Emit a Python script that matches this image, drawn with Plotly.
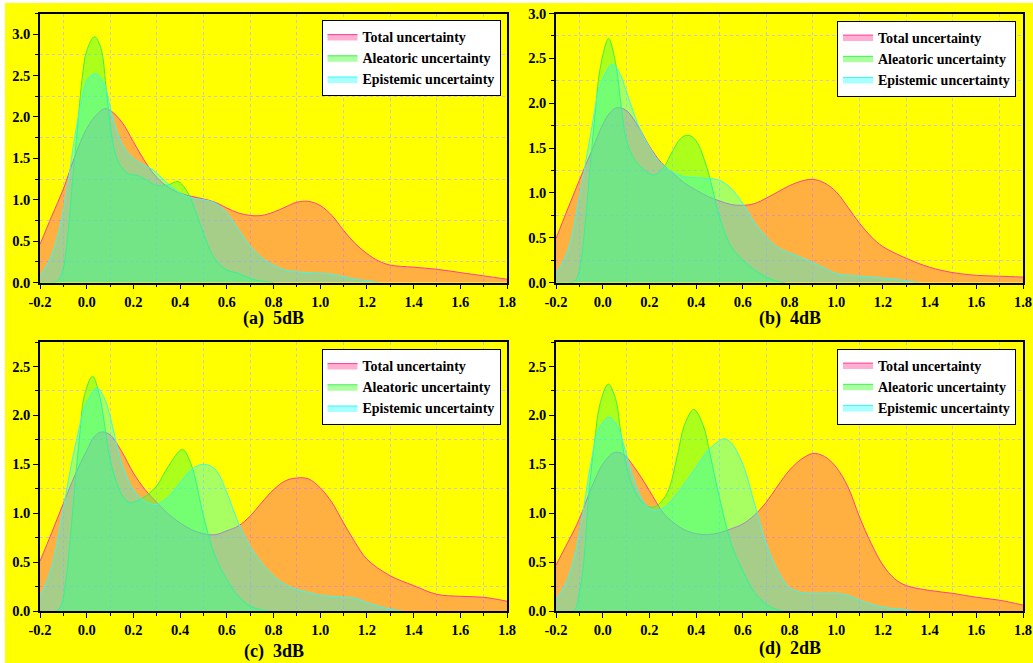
import plotly.graph_objects as go

# ---------------- data ----------------
SERIES_NAMES = ["Total uncertainty", "Aleatoric uncertainty", "Epistemic uncertainty"]
PANEL_TITLES = ["(a)  5dB", "(b)  4dB", "(c)  3dB", "(d)  2dB"]
X_TICK_VALS = [-0.2, 0.0, 0.2, 0.4, 0.6, 0.8, 1.0, 1.2, 1.4, 1.6, 1.8]
X_TICK_TEXT = ["-0.2", "0.0", "0.2", "0.4", "0.6", "0.8", "1.0", "1.2", "1.4", "1.6", "1.8"]

# (a) 5dB
A_TOTAL_X = [-0.2, -0.15, -0.1, -0.05, 0.0, 0.05, 0.077, 0.1, 0.15, 0.2, 0.25, 0.3, 0.35, 0.4, 0.45, 0.5, 0.55, 0.6, 0.65, 0.7, 0.75, 0.8, 0.85, 0.9, 0.95, 1.0, 1.05, 1.1, 1.15, 1.2, 1.25, 1.3, 1.4, 1.5, 1.6, 1.7, 1.8]
A_TOTAL_Y = [0.46, 0.8, 1.13, 1.53, 1.86, 2.05, 2.10, 2.08, 1.94, 1.70, 1.46, 1.27, 1.15, 1.08, 1.04, 1.01, 0.97, 0.90, 0.84, 0.81, 0.81, 0.85, 0.91, 0.97, 0.98, 0.93, 0.81, 0.63, 0.47, 0.35, 0.26, 0.21, 0.185, 0.16, 0.12, 0.08, 0.04]
A_ALEA_X = [-0.2, -0.14, -0.12, -0.1, -0.08, -0.06, -0.04, -0.02, 0.0, 0.033, 0.06, 0.085, 0.105, 0.125, 0.15, 0.18, 0.22, 0.26, 0.3, 0.35, 0.39, 0.43, 0.47, 0.5, 0.55, 0.6, 0.65, 0.7, 0.75, 0.8]
A_ALEA_Y = [0.0, 0.0, 0.03, 0.17, 0.6, 1.25, 1.85, 2.45, 2.8, 2.97, 2.84, 2.3, 1.82, 1.53, 1.39, 1.31, 1.29, 1.23, 1.17, 1.18, 1.22, 1.1, 0.83, 0.59, 0.28, 0.15, 0.11, 0.05, 0.015, 0.0]
A_EPI_X = [-0.2, -0.15, -0.11, -0.08, -0.05, -0.02, 0.005, 0.04, 0.077, 0.105, 0.135, 0.165, 0.2, 0.25, 0.28, 0.3, 0.35, 0.4, 0.45, 0.5, 0.55, 0.6, 0.65, 0.7, 0.75, 0.8, 0.85, 0.9, 1.0, 1.05, 1.1, 1.15, 1.2, 1.25]
A_EPI_Y = [0.07, 0.33, 0.73, 1.21, 1.78, 2.22, 2.46, 2.52, 2.38, 2.06, 1.78, 1.61, 1.5, 1.41, 1.37, 1.32, 1.19, 1.08, 1.02, 1.0, 0.96, 0.84, 0.64, 0.44, 0.3, 0.21, 0.15, 0.13, 0.11, 0.1, 0.07, 0.04, 0.02, 0.0]

# (b) 4dB
B_TOTAL_X = [-0.2, -0.15, -0.1, -0.05, 0.0, 0.03, 0.06, 0.1, 0.15, 0.2, 0.25, 0.3, 0.35, 0.4, 0.45, 0.5, 0.55, 0.6, 0.65, 0.7, 0.75, 0.8, 0.85, 0.9, 0.95, 1.0, 1.05, 1.1, 1.15, 1.2, 1.3, 1.4, 1.5, 1.6, 1.7, 1.8]
B_TOTAL_Y = [0.49, 0.82, 1.14, 1.45, 1.76, 1.89, 1.95, 1.92, 1.75, 1.52, 1.34, 1.22, 1.11, 1.03, 0.96, 0.91, 0.87, 0.86, 0.88, 0.94, 1.01, 1.08, 1.13, 1.15, 1.11, 1.01, 0.84, 0.66, 0.51, 0.4, 0.27, 0.17, 0.11, 0.08, 0.07, 0.06]
B_ALEA_X = [-0.2, -0.13, -0.11, -0.09, -0.07, -0.05, -0.03, -0.01, 0.025, 0.055, 0.08, 0.1, 0.13, 0.17, 0.22, 0.26, 0.3, 0.34, 0.37, 0.4, 0.45, 0.5, 0.55, 0.6, 0.65, 0.7, 0.75, 0.78]
B_ALEA_Y = [0.0, 0.0, 0.05, 0.3, 0.8, 1.4, 1.95, 2.4, 2.72, 2.45, 1.95, 1.6, 1.4, 1.27, 1.2, 1.28, 1.47, 1.62, 1.64, 1.58, 1.25, 0.73, 0.4, 0.25, 0.14, 0.06, 0.01, 0.0]
B_EPI_X = [-0.2, -0.15, -0.1, -0.05, -0.01, 0.04, 0.07, 0.1, 0.15, 0.2, 0.25, 0.3, 0.35, 0.4, 0.45, 0.5, 0.55, 0.6, 0.65, 0.7, 0.75, 0.8, 0.85, 0.9, 0.95, 1.0, 1.05, 1.1, 1.2, 1.3, 1.35]
B_EPI_Y = [0.1, 0.35, 0.95, 1.68, 2.2, 2.43, 2.35, 2.14, 1.77, 1.51, 1.33, 1.23, 1.18, 1.17, 1.16, 1.14, 1.05, 0.88, 0.67, 0.51, 0.39, 0.33, 0.28, 0.22, 0.16, 0.1, 0.08, 0.07, 0.05, 0.02, 0.0]

# (c) 3dB
C_TOTAL_X = [-0.2, -0.15, -0.1, -0.05, 0.0, 0.035, 0.065, 0.1, 0.15, 0.2, 0.25, 0.3, 0.35, 0.4, 0.45, 0.5, 0.55, 0.6, 0.65, 0.7, 0.75, 0.8, 0.85, 0.9, 0.95, 1.0, 1.05, 1.1, 1.15, 1.2, 1.3, 1.4, 1.5, 1.6, 1.7, 1.8]
C_TOTAL_Y = [0.51, 0.8, 1.1, 1.39, 1.64, 1.79, 1.83, 1.8, 1.63, 1.41, 1.24, 1.11, 0.99, 0.9, 0.83, 0.79, 0.78, 0.82, 0.87, 0.97, 1.11, 1.24, 1.33, 1.36, 1.35, 1.26, 1.11, 0.9, 0.7, 0.53, 0.36, 0.26, 0.17, 0.15, 0.14, 0.1]
C_ALEA_X = [-0.2, -0.13, -0.11, -0.09, -0.07, -0.05, -0.03, -0.01, 0.025, 0.055, 0.08, 0.1, 0.13, 0.15, 0.18, 0.21, 0.25, 0.3, 0.35, 0.41, 0.45, 0.5, 0.55, 0.6, 0.65, 0.7, 0.75, 0.78]
C_ALEA_Y = [0.0, 0.0, 0.05, 0.3, 0.75, 1.3, 1.8, 2.2, 2.4, 2.2, 1.85, 1.55, 1.3, 1.19, 1.11, 1.12, 1.17, 1.28, 1.48, 1.65, 1.48, 0.97, 0.56, 0.32, 0.15, 0.05, 0.01, 0.0]
C_EPI_X = [-0.2, -0.15, -0.1, -0.05, 0.0, 0.045, 0.075, 0.1, 0.15, 0.2, 0.25, 0.3, 0.35, 0.4, 0.45, 0.5, 0.55, 0.6, 0.65, 0.7, 0.75, 0.8, 0.85, 0.9, 0.95, 1.0, 1.05, 1.1, 1.15, 1.2, 1.25, 1.3, 1.35]
C_EPI_Y = [0.14, 0.45, 1.05, 1.68, 2.13, 2.28, 2.18, 1.99, 1.51, 1.24, 1.12, 1.09, 1.17, 1.31, 1.45, 1.5, 1.45, 1.21, 0.9, 0.66, 0.49, 0.36, 0.27, 0.22, 0.19, 0.16, 0.15, 0.14, 0.13, 0.085, 0.05, 0.02, 0.0]

# (d) 2dB
D_TOTAL_X = [-0.2, -0.15, -0.1, -0.05, 0.0, 0.05, 0.09, 0.135, 0.18, 0.22, 0.26, 0.3, 0.35, 0.4, 0.45, 0.5, 0.55, 0.6, 0.65, 0.7, 0.75, 0.8, 0.85, 0.9, 0.95, 1.0, 1.05, 1.1, 1.15, 1.2, 1.25, 1.3, 1.4, 1.5, 1.6, 1.7, 1.8]
D_TOTAL_Y = [0.47, 0.7, 0.94, 1.25, 1.5, 1.62, 1.6, 1.47, 1.31, 1.15, 1.0, 0.91, 0.83, 0.79, 0.78, 0.8, 0.84, 0.89, 0.98, 1.11, 1.28, 1.44, 1.55, 1.61, 1.58, 1.47, 1.27, 0.96, 0.69, 0.47, 0.33, 0.26, 0.21, 0.18, 0.14, 0.11, 0.06]
D_ALEA_X = [-0.2, -0.125, -0.1, -0.08, -0.06, -0.037, -0.01, 0.024, 0.055, 0.077, 0.098, 0.127, 0.163, 0.205, 0.234, 0.277, 0.32, 0.35, 0.39, 0.43, 0.46, 0.5, 0.55, 0.6, 0.65, 0.7, 0.75, 0.78]
D_ALEA_Y = [0.0, 0.0, 0.19, 0.53, 1.18, 1.69, 2.13, 2.32, 2.17, 1.83, 1.52, 1.28, 1.13, 1.06, 1.08, 1.21, 1.59, 1.9, 2.06, 1.9, 1.6, 1.16, 0.69, 0.41, 0.19, 0.07, 0.01, 0.0]
D_EPI_X = [-0.2, -0.15, -0.11, -0.08, -0.05, -0.016, 0.027, 0.063, 0.091, 0.12, 0.148, 0.177, 0.205, 0.234, 0.263, 0.305, 0.35, 0.4, 0.45, 0.5, 0.52, 0.55, 0.6, 0.65, 0.7, 0.75, 0.8, 0.85, 0.9, 0.95, 1.0, 1.05, 1.1, 1.15, 1.2, 1.3, 1.33]
D_EPI_Y = [0.11, 0.33, 0.67, 1.08, 1.52, 1.86, 1.98, 1.89, 1.69, 1.45, 1.25, 1.11, 1.04, 1.03, 1.06, 1.16, 1.3, 1.47, 1.64, 1.74, 1.76, 1.72, 1.5, 1.1, 0.69, 0.41, 0.24, 0.19, 0.18, 0.18, 0.18, 0.16, 0.11, 0.07, 0.04, 0.01, 0.0]

Y_MAX = [3.25, 3.0, 2.75, 2.75]

# ---------------- styling ----------------
W, H = 1033, 663
BG = "#FFFF00"
FONT = "Liberation Serif"
FILLS = ["rgba(255,74,147,0.44)", "rgba(76,255,55,0.47)", "rgba(24,255,255,0.38)"]
LINES = ["#FF3C9C", "#3CF050", "#3CF8F0"]
TICK_FONT = dict(family=FONT, size=14.5, color="black", weight="bold")

# pixel geometry of the four plot areas: (left, right, top, bottom)
BOXES = [(40, 507, 13.5, 282.5), (556, 1023, 13.5, 282.5),
         (40, 507, 342, 611), (556, 1023, 342, 611)]
LEGEND_POS = [(500.5, 20), (1016, 20.5), (500.5, 349), (1016, 348.5)]
TITLE_Y = [318, 318, 651, 648]

panels = [
    (A_TOTAL_X, A_TOTAL_Y, A_ALEA_X, A_ALEA_Y, A_EPI_X, A_EPI_Y),
    (B_TOTAL_X, B_TOTAL_Y, B_ALEA_X, B_ALEA_Y, B_EPI_X, B_EPI_Y),
    (C_TOTAL_X, C_TOTAL_Y, C_ALEA_X, C_ALEA_Y, C_EPI_X, C_EPI_Y),
    (D_TOTAL_X, D_TOTAL_Y, D_ALEA_X, D_ALEA_Y, D_EPI_X, D_EPI_Y),
]

fig = go.Figure()
layout = dict(
    template="none",
    width=W, height=H,
    margin=dict(l=0, r=0, t=0, b=0, pad=0, autoexpand=False),
    paper_bgcolor=BG, plot_bgcolor=BG,
    font=dict(family=FONT, size=14, color="black", weight="bold"),
    showlegend=True,
)
annotations = []
for i, p in enumerate(panels):
    k = "" if i == 0 else str(i + 1)
    xa, ya = "x" + k, "y" + k
    leg = "legend" + k
    for s in range(3):
        fig.add_trace(go.Scatter(
            x=p[2 * s], y=p[2 * s + 1], name=SERIES_NAMES[s],
            mode="lines", line=dict(color=LINES[s], width=1, shape="spline", smoothing=1.0),
            fill="tozeroy", fillcolor=FILLS[s],
            xaxis=xa, yaxis=ya, legend=leg, hoverinfo="skip",
        ))
    l, r, t, b = BOXES[i]
    layout["xaxis" + k] = dict(
        domain=[l / W, r / W], anchor=ya, range=[-0.2, 1.8], automargin=False,
        tickmode="array", tickvals=X_TICK_VALS, ticktext=X_TICK_TEXT,
        ticks="outside", ticklen=5, tickwidth=1.2, tickcolor="black",
        showline=True, linecolor="black", linewidth=1.5, mirror=True,
        showgrid=False, zeroline=False, tickfont=TICK_FONT,
        minor=dict(tickmode="linear", tick0=-0.1, dtick=0.2, ticks="outside", ticklen=3,
                   tickcolor="black", showgrid=True, gridcolor="#C8C8C8", griddash="dot", gridwidth=1),
    )
    layout["yaxis" + k] = dict(
        domain=[1 - b / H, 1 - t / H], anchor=xa, range=[0, Y_MAX[i]], automargin=False,
        dtick=0.5, tick0=0, tickformat=".1f",
        ticks="outside", ticklen=5, tickwidth=1.2, tickcolor="black",
        showline=True, linecolor="black", linewidth=1.5, mirror=True,
        showgrid=False, zeroline=False, tickfont=TICK_FONT,
        minor=dict(tickmode="linear", tick0=0.25, dtick=0.5, ticks="outside", ticklen=3,
                   tickcolor="black", showgrid=True, gridcolor="#C8C8C8", griddash="dot", gridwidth=1),
    )
    lx, ly = LEGEND_POS[i]
    layout[leg] = dict(
        x=lx / W, y=1 - ly / H, xanchor="right", yanchor="top",
        bgcolor="white", bordercolor="black", borderwidth=1,
        font=dict(family=FONT, size=14, color="black", weight="bold"),
        itemwidth=30, tracegroupgap=0,
    )
    annotations.append(dict(
        text=PANEL_TITLES[i], x=(l + r) / 2 / W, y=1 - TITLE_Y[i] / H,
        xref="paper", yref="paper", xanchor="center", yanchor="middle", showarrow=False,
        font=dict(family=FONT, size=18, color="black", weight="bold"),
    ))

layout["annotations"] = annotations
layout["shapes"] = [
    dict(type="rect", xref="paper", yref="paper", x0=0, x1=5 / W, y0=0, y1=1,
         fillcolor="white", line=dict(width=0)),
    dict(type="rect", xref="paper", yref="paper", x0=0, x1=1, y0=1 - 3 / H, y1=1,
         fillcolor="white", line=dict(width=0)),
]
fig.update_layout(**layout)
fig.write_html("out.html")
